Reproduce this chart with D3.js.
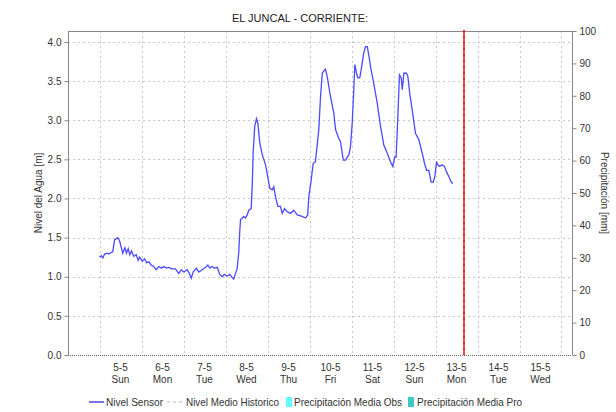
<!DOCTYPE html>
<html><head><meta charset="utf-8">
<script src="https://cdn.jsdelivr.net/npm/d3@7"></script>
<style>
html,body{margin:0;padding:0;background:#fff;}
svg text{font-family:"Liberation Sans",Arial,sans-serif;}
</style></head>
<body><svg id="c" width="616" height="412"></svg>
<script>
const title = "EL JUNCAL - CORRIENTE:";
const leftLabel = "Nivel del Agua [m]";
const rightLabel = "Precipitación [mm]";
const seriesStart = "2019-05-05T00:00:00";
const hours = [0,1.0,1.9,2.9,4.4,5.3,6.7,7.6,8.6,10.5,11.6,13.3,14.5,15.4,16.4,17.3,18.3,19.6,21.0,22.1,23.0,24.4,25.7,26.9,28.2,29.5,31.0,32.4,33.9,35.3,36.7,38.3,39.6,41.5,43.4,45.3,46.7,48.2,50.1,51.4,52.4,53.5,55.4,56.7,58.7,60.6,61.9,63.0,64.4,65.7,67.3,68.7,70.1,71.4,73.0,74.5,75.8,76.7,77.7,78.7,79.6,80.2,80.6,82.5,83.4,84.4,85.3,86.7,87.3,87.8,88.7,89.7,90.5,91.6,93,94.9,95.8,97.3,98.7,99.6,100.6,101.9,103.4,104.4,105.7,107.3,109.1,111,113,115.8,117.7,119,119.6,121,122.1,123.4,125.3,126.3,127.3,128.2,129.1,130.1,132,133.9,134.9,136.7,137.7,139.3,140.6,142.5,143.4,144.4,145.3,145.9,146.9,147.6,148.7,149.5,151,152,153,153.9,154.9,156.7,158.7,160.6,162.5,164.4,166.3,167.6,168.7,169.5,170.5,171.4,172.4,173,173.9,175.4,176.2,177.3,178.7,180.6,182.5,184.4,185.7,186.9,188.2,189.5,190.7,191.6,192.6,193.3,194.4,195.8,197.1,198.3,199.6,201,201.9];
const nivel = [1.25,1.27,1.24,1.29,1.30,1.29,1.31,1.32,1.47,1.50,1.45,1.30,1.37,1.30,1.36,1.28,1.33,1.26,1.28,1.21,1.25,1.20,1.23,1.18,1.19,1.15,1.13,1.09,1.13,1.11,1.13,1.11,1.12,1.10,1.10,1.04,1.09,1.06,1.09,1.04,0.98,1.06,1.11,1.06,1.09,1.12,1.15,1.11,1.13,1.11,1.12,1.03,1.00,1.03,1.01,1.03,0.99,0.97,1.04,1.11,1.32,1.60,1.73,1.77,1.75,1.79,1.85,1.87,2.19,2.58,2.92,3.02,2.96,2.71,2.56,2.43,2.32,2.13,2.11,2.15,2.02,1.90,1.90,1.81,1.87,1.83,1.81,1.85,1.79,1.77,1.75,1.79,2.02,2.24,2.45,2.47,2.88,3.30,3.60,3.63,3.65,3.56,3.30,3.09,2.88,2.77,2.73,2.49,2.49,2.56,2.66,2.96,3.39,3.71,3.60,3.54,3.54,3.64,3.86,3.94,3.94,3.83,3.68,3.47,3.22,2.92,2.68,2.58,2.47,2.41,2.53,2.53,3.05,3.58,3.54,3.39,3.60,3.60,3.56,3.34,3.13,2.83,2.75,2.58,2.45,2.36,2.36,2.21,2.21,2.28,2.47,2.43,2.41,2.43,2.41,2.34,2.28,2.21,2.19];
const domainStart = "2019-05-04T06:00:00";
const domainEnd = "2019-05-16T06:00:00";
const nowMarker = "2019-05-13T16:00:00";
const leftTicks = [0,0.5,1,1.5,2,2.5,3,3.5,4];
const rightTicks = [0,10,20,30,40,50,60,70,80,90,100];
const legendItems = ["Nivel Sensor","Nivel Medio Historico","Precipitación Media Obs","Precipitación Media Pro"];

const L=68,R=572,T=31,B=355;
const svg=d3.select("#c");
const parse=s=>new Date(s);
const t0=parse(seriesStart);
const data=hours.map((h,i)=>({t:new Date(t0.getTime()+h*3600e3),v:nivel[i]}));

const x=d3.scaleTime().domain([parse(domainStart),parse(domainEnd)]).range([L,R]);
const y=d3.scaleLinear().domain([0,4.14]).range([B,T]);
const y2=d3.scaleLinear().domain([0,100]).range([B,T]);

const days=d3.timeDay.range(d3.timeDay.ceil(parse(domainStart)),parse(domainEnd));
const labelDays=days.filter(d=>d.getTime()+12*3600e3<parse(domainEnd).getTime());

// grid
const g=svg.append("g");
g.selectAll("line.h").data(leftTicks.filter(d=>d>0)).join("line")
 .attr("x1",L).attr("x2",R).attr("y1",d=>Math.round(y(d))+0.5).attr("y2",d=>Math.round(y(d))+0.5)
 .attr("stroke","#c8c8c8").attr("stroke-dasharray","2,3");
g.selectAll("line.v").data(days).join("line")
 .attr("x1",d=>Math.round(x(d))+0.5).attr("x2",d=>Math.round(x(d))+0.5).attr("y1",T).attr("y2",B)
 .attr("stroke","#c8c8c8").attr("stroke-dasharray","2,3");

// frame
svg.append("line").attr("x1",L+0.5).attr("x2",L+0.5).attr("y1",T).attr("y2",B).attr("stroke","#888");
svg.append("line").attr("x1",R+0.5).attr("x2",R+0.5).attr("y1",T).attr("y2",B).attr("stroke","#888");
svg.append("line").attr("x1",L).attr("x2",R).attr("y1",T+0.5).attr("y2",T+0.5).attr("stroke","#888");
svg.append("line").attr("x1",L).attr("x2",R).attr("y1",B+0.5).attr("y2",B+0.5).attr("stroke","#666").attr("stroke-dasharray","1,1");

// left axis
const la=svg.append("g").attr("transform",`translate(${L+0.5},0)`)
 .call(d3.axisLeft(y).tickValues(leftTicks).tickFormat(d3.format(".1f")).tickSize(4).tickPadding(3));
la.select(".domain").remove();
la.selectAll(".tick line").attr("stroke","#888");
la.selectAll("text").attr("fill","#333").style("font-size","10px");

// right axis
const ra=svg.append("g").attr("transform",`translate(${R+0.5},0)`)
 .call(d3.axisRight(y2).tickValues(rightTicks).tickFormat(d3.format("d")).tickSize(4).tickPadding(3));
ra.select(".domain").remove();
ra.selectAll(".tick line").attr("stroke","#888");
ra.selectAll("text").attr("fill","#333").style("font-size","10px");

// x labels at noon
const xl=svg.append("g");
labelDays.forEach(d=>{
  const noon=new Date(d.getTime()+12*3600e3);
  const t=xl.append("text").attr("x",x(noon)).attr("text-anchor","middle").attr("fill","#333").style("font-size","10px");
  t.append("tspan").attr("x",x(noon)).attr("y",371).text(d3.timeFormat("%-d-%-m")(d));
  t.append("tspan").attr("x",x(noon)).attr("y",383).text(d3.timeFormat("%a")(d));
});

// line
svg.append("path").datum(data).attr("fill","none").attr("stroke","#4a4aff").attr("stroke-width",1.3)
 .attr("d",d3.line().x(d=>x(d.t)).y(d=>y(d.v)));

// now marker
const nx=Math.round(x(parse(nowMarker)));
svg.append("line").attr("x1",nx).attr("x2",nx).attr("y1",T-1).attr("y2",B).attr("stroke","#ff4848").attr("stroke-width",2);
svg.append("line").attr("x1",nx).attr("x2",nx).attr("y1",T-1).attr("y2",B).attr("stroke","#d80000").attr("stroke-width",1).attr("stroke-dasharray","2,4");

// titles
svg.append("text").attr("x",300).attr("y",22).attr("text-anchor","middle").attr("fill","#222").style("font-size","11px").text(title);
svg.append("text").attr("transform",`translate(42,${(T+B)/2}) rotate(-90)`).attr("text-anchor","middle").attr("fill","#333").style("font-size","10px").text(leftLabel);
svg.append("text").attr("transform",`translate(601,${(T+B)/2}) rotate(90)`).attr("text-anchor","middle").attr("fill","#333").style("font-size","10px").text(rightLabel);

// legend
const lg=svg.append("g");
const ly=402, fs="10.4px";
const legText=(xp,s,w)=>lg.append("text").attr("x",xp).attr("y",ly+4).attr("fill","#333").style("font-size",fs)
  .attr("textLength",w).attr("lengthAdjust","spacingAndGlyphs").text(s);
lg.append("line").attr("x1",89).attr("x2",104).attr("y1",ly).attr("y2",ly).attr("stroke","#1a1acc").attr("stroke-width",1.2);
legText(106,legendItems[0],57);
lg.append("line").attr("x1",167).attr("x2",183).attr("y1",ly).attr("y2",ly).attr("stroke","#bbb").attr("stroke-dasharray","3,3");
legText(186,legendItems[1],93);
lg.append("rect").attr("x",286).attr("y",397).attr("width",6).attr("height",10).attr("fill","#66ffff");
legText(294,legendItems[2],108);
lg.append("rect").attr("x",408).attr("y",397).attr("width",6).attr("height",10).attr("fill","#40c8c8");
legText(417,legendItems[3],105);
</script></body></html>
